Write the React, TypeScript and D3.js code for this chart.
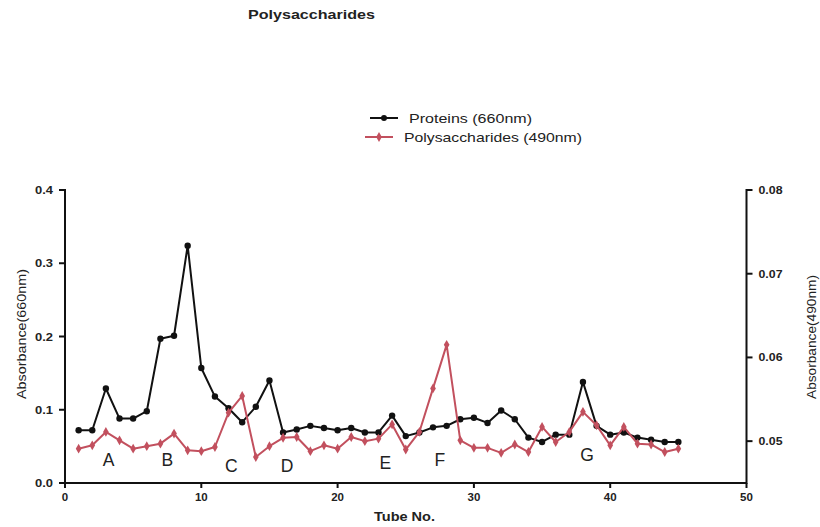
import React from "react";
import * as d3 from "d3";

// Tube numbers and absorbance readings
const tubes: number[] = Array.from({ length: 45 }, (_, i) => i + 1);

const proteins660: number[] = [
  0.072, 0.072, 0.129, 0.088, 0.088, 0.098, 0.197, 0.201, 0.324, 0.157,
  0.118, 0.102, 0.083, 0.104, 0.140, 0.069, 0.073, 0.078, 0.075, 0.072,
  0.075, 0.069, 0.069, 0.092, 0.064, 0.069, 0.076, 0.078, 0.087, 0.089,
  0.082, 0.099, 0.087, 0.062, 0.056, 0.066, 0.066, 0.138, 0.078, 0.066,
  0.069, 0.062, 0.059, 0.056, 0.056,
];

const polysaccharides490: number[] = [
  0.0491, 0.0495, 0.0511, 0.0501, 0.0491, 0.0494, 0.0497, 0.0509, 0.0489, 0.0488,
  0.0493, 0.0534, 0.0554, 0.0481, 0.0494, 0.0504, 0.0505, 0.0488, 0.0495, 0.0491,
  0.0505, 0.0500, 0.0503, 0.0520, 0.0490, 0.0511, 0.0563, 0.0615, 0.0501, 0.0492,
  0.0492, 0.0486, 0.0496, 0.0487, 0.0517, 0.0499, 0.0511, 0.0535, 0.0519, 0.0495,
  0.0517, 0.0497, 0.0496, 0.0487, 0.0491,
];

const xTicks: number[] = [0, 10, 20, 30, 40, 50];
const leftTicks: number[] = [0, 0.1, 0.2, 0.3, 0.4];
const rightTicks: number[] = [0.05, 0.06, 0.07, 0.08];

// Fraction labels: letter, tube position, and baseline height on the left axis
const peakLabels: [string, number][] = [
  ["A", 3.2],
  ["B", 7.5],
  ["C", 12.2],
  ["D", 16.3],
  ["E", 23.5],
  ["F", 27.5],
  ["G", 38.3],
];
const peakLabelY: number[] = [0.023, 0.023, 0.015, 0.015, 0.019, 0.023, 0.030];

const BLACK = "#111111";
const RED = "#c2505e";
const FONT = "'Liberation Sans', Arial, Helvetica, sans-serif";

export default function App() {
  const W = 820;
  const H = 527;
  const left = 65;
  const right = 746.5;
  const top = 190;
  const bottom = 483;

  const x = d3.scaleLinear().domain([0, 50]).range([left, right]);
  const yL = d3.scaleLinear().domain([0, 0.4]).range([bottom, top]);
  const yR = d3.scaleLinear().domain([0.045, 0.08]).range([bottom, top]);

  const protLine = d3
    .line<number>()
    .x((_, i) => x(tubes[i]))
    .y((d) => yL(d));
  const polyLine = d3
    .line<number>()
    .x((_, i) => x(tubes[i]))
    .y((d) => yR(d));

  const diamond = d3.symbol().type(d3.symbolDiamond).size(28)() as string;
  const stretch = "spacingAndGlyphs";

  return (
    <svg width={W} height={H} style={{ position: "absolute", left: 0, top: 0, background: "#fff" }} fontFamily={FONT}>
      <rect x={0} y={0} width={W} height={H} fill="#fff" />
      <text x={248} y={19} fontSize={13} fontWeight="bold" fill="#222" textLength={127} lengthAdjust={stretch}>
        Polysaccharides
      </text>

      {/* legend */}
      <g>
        <line x1={370} x2={398} y1={118} y2={118} stroke={BLACK} strokeWidth={2} />
        <circle cx={384} cy={118} r={3} fill={BLACK} />
        <text x={409} y={122.5} fontSize={13.5} fill="#222" textLength={123} lengthAdjust={stretch}>
          Proteins (660nm)
        </text>
        <line x1={365} x2={393} y1={137} y2={137} stroke={RED} strokeWidth={2} />
        <path d={diamond} transform={`translate(379,137)`} fill={RED} />
        <text x={404} y={141.5} fontSize={13.5} fill="#222" textLength={178} lengthAdjust={stretch}>
          Polysaccharides (490nm)
        </text>
      </g>

      {/* axes */}
      <g stroke={BLACK} strokeWidth={2} fill="none">
        <line x1={left} x2={left} y1={top - 1} y2={bottom + 1} />
        <line x1={right} x2={right} y1={top - 1} y2={bottom + 1} />
        <line x1={left} x2={right} y1={bottom} y2={bottom} />
        {leftTicks.map((t) => (
          <line key={"l" + t} x1={left - 6} x2={left} y1={yL(t)} y2={yL(t)} />
        ))}
        {rightTicks.map((t) => (
          <line key={"r" + t} x1={right} x2={right + 6} y1={yR(t)} y2={yR(t)} />
        ))}
        {xTicks.map((t) => (
          <line key={"x" + t} x1={x(t)} x2={x(t)} y1={bottom} y2={bottom + 5} />
        ))}
      </g>
      <g fontSize={11.5} fontWeight="bold" fill="#222">
        {leftTicks.map((t) => (
          <text key={"lt" + t} x={left - 12} y={yL(t) + 4} textAnchor="end" textLength={18} lengthAdjust={stretch}>
            {t.toFixed(1)}
          </text>
        ))}
        {rightTicks.map((t) => (
          <text key={"rt" + t} x={right + 12} y={yR(t) + 4} textLength={24} lengthAdjust={stretch}>
            {t.toFixed(2)}
          </text>
        ))}
        {xTicks.map((t) => (
          <text key={"xt" + t} x={x(t)} y={bottom + 18} textAnchor="middle">
            {t}
          </text>
        ))}
      </g>
      <text x={374} y={521} fontSize={12} fontWeight="bold" fill="#222" textLength={61} lengthAdjust={stretch}>
        Tube No.
      </text>
      <text transform={`translate(26,399) rotate(-90)`} fontSize={13} fill="#222" textLength={130} lengthAdjust={stretch}>
        Absorbance(660nm)
      </text>
      <text transform={`translate(816,399) rotate(-90)`} fontSize={13} fill="#222" textLength={124} lengthAdjust={stretch}>
        Absorbance(490nm)
      </text>

      {/* series */}
      <path d={protLine(proteins660) as string} fill="none" stroke={BLACK} strokeWidth={2} strokeLinejoin="round" />
      {proteins660.map((v, i) => (
        <circle key={"p" + i} cx={x(tubes[i])} cy={yL(v)} r={3.2} fill={BLACK} />
      ))}
      <path d={polyLine(polysaccharides490) as string} fill="none" stroke={RED} strokeWidth={2} strokeLinejoin="round" />
      {polysaccharides490.map((v, i) => (
        <path key={"s" + i} d={diamond} transform={`translate(${x(tubes[i])},${yR(v)})`} fill={RED} />
      ))}

      {/* fraction labels */}
      <g fontSize={17.5} fill="#222">
        {peakLabels.map(([label, t], i) => (
          <text key={label} x={x(t)} y={yL(peakLabelY[i])} textAnchor="middle">
            {label}
          </text>
        ))}
      </g>
    </svg>
  );
}
